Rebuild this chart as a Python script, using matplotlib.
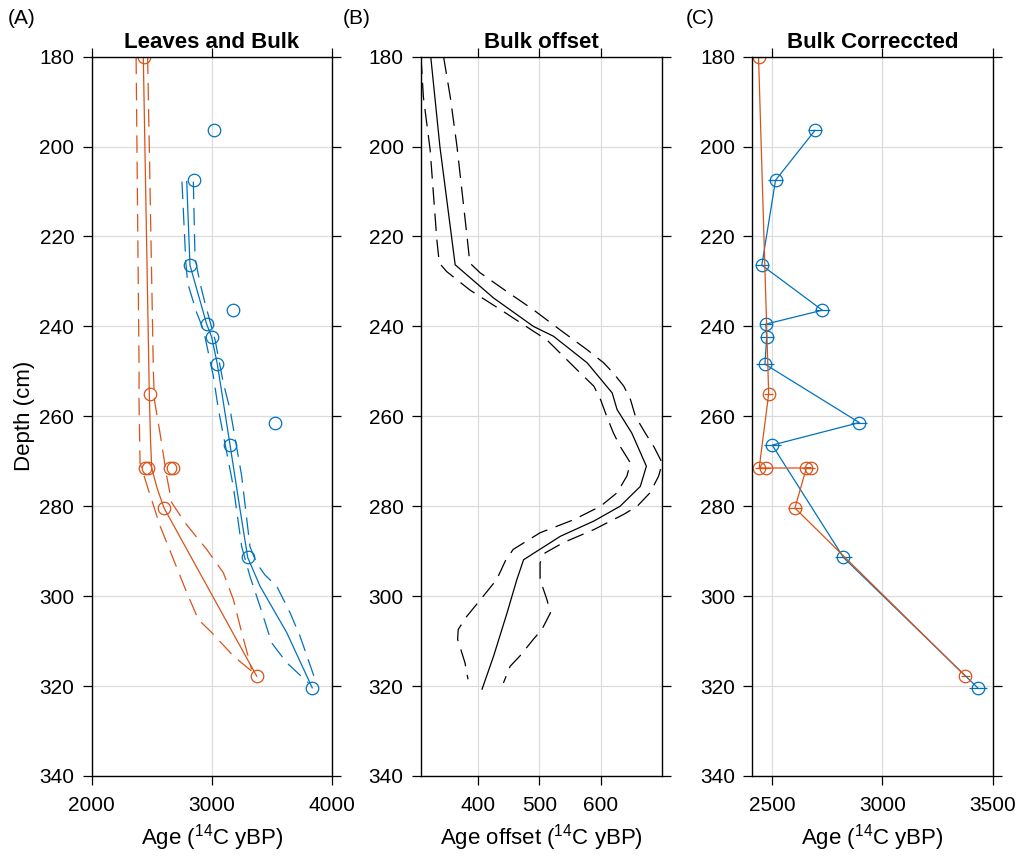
import matplotlib
matplotlib.use("Agg")
import matplotlib.pyplot as plt

plt.rcParams['font.family'] = ['Liberation Sans', 'DejaVu Sans']
plt.rcParams['mathtext.fontset'] = 'custom'
plt.rcParams['mathtext.rm'] = 'Liberation Sans'
plt.rcParams['mathtext.it'] = 'Liberation Sans'

BLUE = '#0072BD'
ORANGE = '#D95319'

# --- measured ages (14C yBP) ---
leaf_depth = [180, 255, 271.5, 271.5, 271.5, 271.5, 280.4, 317.8]
leaf_age = [2438, 2484, 2441, 2471, 2676, 2655, 2603, 3376]
leaf_err = [20, 20, 20, 20, 20, 20, 30, 20]

bulk_depth = [196.4, 207.5, 226.4, 236.4, 239.5, 242.4, 248.4, 261.4, 266.4, 291.4, 320.4]
bulk_age = [3022, 2850, 2819, 3178, 2958, 3000, 3047, 3528, 3153, 3300, 3838]
bulk_corr = [2694, 2515, 2453, 2727, 2471, 2475, 2467, 2895, 2500, 2823, 3432]
bulk_corr_err = [33, 36, 31, 34, 27, 32, 39, 36, 38, 38, 40]

# --- age-depth models, panel A ---
leaf_mod_depth = [180, 255, 265, 271.5, 276, 280.4, 317.8]
leaf_mod_age = [2430, 2480, 2490, 2500, 2545, 2603, 3375]
leaf_lo_depth = [180, 250, 256, 270.4, 276.3, 284.4, 291.8, 299.2, 305.2, 308.1, 313.3, 317]
leaf_lo_age = [2370, 2395, 2394, 2403, 2472, 2570, 2681, 2792, 2889, 3000, 3180, 3347]
leaf_hi_depth = [180, 250, 256.3, 263.7, 273.3, 279.2, 283.7, 289.6, 294.8, 300.7, 308.1, 316.3]
leaf_hi_age = [2466, 2514, 2522, 2569, 2625, 2667, 2778, 2958, 3097, 3180, 3250, 3333]

bulk_mod_depth = [207.8, 226.4, 239.5, 242.4, 248.4, 266.4, 280.7, 291.4, 297.8, 308.1, 320.4]
bulk_mod_age = [2792, 2819, 2958, 3000, 3047, 3153, 3236, 3300, 3403, 3625, 3838]
bulk_lo_depth = [207.8, 226, 230.4, 237, 240.7, 251.1, 258.5, 275.6, 289, 295.6, 302.3, 310.4, 314.8, 319.3]
bulk_lo_age = [2752, 2785, 2800, 2875, 2931, 3014, 3056, 3180, 3250, 3319, 3403, 3500, 3625, 3806]
bulk_hi_depth = [207.8, 224.8, 230.4, 234.8, 243, 252.6, 258.5, 273.3, 289, 292.7, 295.3, 297.8, 303.7, 308.9, 318.5]
bulk_hi_age = [2847, 2861, 2903, 2944, 3028, 3097, 3153, 3250, 3319, 3375, 3444, 3542, 3653, 3736, 3861]

# --- bulk offset, panel B ---
off_depth = [180, 200, 226.3, 233.7, 240, 242.2, 248.1, 254.8, 258.5, 263.7, 271.1, 275.6,
             280, 283.3, 286.7, 291.9, 296.3, 303.7, 313.3, 320.7]
off_val = [322, 337, 362, 425, 490, 523, 578, 619, 627, 651, 675, 665,
           632, 589, 534, 474, 463, 447, 425, 406]
off_lo_depth = [180, 189, 200.7, 220.7, 225.9, 227.8, 231.9, 236.7, 240.8, 243, 249.6, 253.3,
                256.3, 260, 263.7, 266.7, 270.4, 273.3, 277, 280, 283, 285.9, 289.6, 292.2,
                296.3, 300, 304.5, 307.4, 309.6, 314.8, 318.5]
off_lo = [306, 310, 321, 332, 336, 348, 386, 441, 487, 512, 561, 589,
          600, 610, 621, 632, 649, 643, 627, 600, 556, 501, 457, 444,
          430, 408, 381, 367, 366, 378, 383]
off_hi_depth = [180, 189, 200, 220.7, 225.9, 228.1, 232.2, 236.3, 240.8, 245.2, 248.1, 250.4,
                253.3, 256.3, 260, 263.7, 266.7, 270.4, 273.3, 277, 280, 281.8, 285.2, 288.1,
                290.4, 292.6, 296.3, 300.7, 303.7, 307.4, 309.6, 313.3, 315.6, 319.3]
off_hi = [343, 354, 365, 382, 386, 403, 446, 490, 534, 578, 605, 621,
          638, 649, 657, 673, 687, 701, 695, 681, 660, 638, 589, 539,
          509, 501, 501, 512, 518, 504, 490, 468, 452, 441]

DASH = (14, 7)
LW = 0.9
MS = 9


def style_axis(ax, xlim, xticks):
    ax.set_xlim(*xlim)
    ax.set_xticks(xticks)
    ax.set_ylim(340, 180)
    ax.set_yticks(range(180, 341, 20))
    ax.grid(True, color='#dcdcdc', lw=0.9)
    ax.set_axisbelow(True)
    ax.tick_params(direction='out', length=6.5, width=0.9, top=True, right=True,
                   labelsize=15, color='black')
    ax.tick_params(axis='y', pad=6)
    ax.tick_params(axis='x', pad=8)
    for s in ax.spines.values():
        s.set_linewidth(1.0)
    ax.set_xlabel(r'Age ($^{14}$C yBP)', fontsize=16, labelpad=5)


fig = plt.figure(figsize=(10.2, 8.58), dpi=100)
axA = fig.add_axes([0.0899, 0.0956, 0.2353, 0.8384])
axB = fig.add_axes([0.4127, 0.0956, 0.2360, 0.8384])
axC = fig.add_axes([0.7376, 0.0956, 0.2357, 0.8384])

# (A) leaves and bulk
for d, a, ls in [(leaf_mod_depth, leaf_mod_age, '-'),
                 (leaf_lo_depth, leaf_lo_age, '--'),
                 (leaf_hi_depth, leaf_hi_age, '--')]:
    ln, = axA.plot(a, d, ls, color=ORANGE, lw=LW)
    if ls == '--':
        ln.set_dashes(DASH)
for d, a, ls in [(bulk_mod_depth, bulk_mod_age, '-'),
                 (bulk_lo_depth, bulk_lo_age, '--'),
                 (bulk_hi_depth, bulk_hi_age, '--')]:
    ln, = axA.plot(a, d, ls, color=BLUE, lw=LW)
    if ls == '--':
        ln.set_dashes(DASH)
axA.plot(leaf_age, leaf_depth, 'o', mfc='none', mec=ORANGE, ms=MS, mew=0.9)
axA.plot(bulk_age, bulk_depth, 'o', mfc='none', mec=BLUE, ms=MS, mew=0.9)
style_axis(axA, (2000, 4000), [2000, 3000, 4000])
axA.set_ylabel('Depth (cm)', fontsize=16, labelpad=3)
axA.set_title('Leaves and Bulk', fontsize=16, fontweight='bold', pad=6)

# (B) bulk offset
axB.plot(off_val, off_depth, '-', color='black', lw=LW)
for d, v in [(off_lo_depth, off_lo), (off_hi_depth, off_hi)]:
    ln, = axB.plot(v, d, '--', color='black', lw=LW)
    ln.set_dashes(DASH)
style_axis(axB, (306, 700), [400, 500, 600])
axB.set_xlabel(r'Age offset ($^{14}$C yBP)', fontsize=16, labelpad=5)
axB.set_title('Bulk offset', fontsize=16, fontweight='bold', pad=6)

# (C) bulk corrected
axC.errorbar(bulk_corr, bulk_depth, xerr=bulk_corr_err, fmt='-o', color=BLUE,
             mfc='none', ms=MS, mew=0.9, lw=LW, elinewidth=LW, capsize=0)
axC.errorbar(leaf_age, leaf_depth, xerr=leaf_err, fmt='-o', color=ORANGE,
             mfc='none', ms=MS, mew=0.9, lw=LW, elinewidth=LW, capsize=0)
style_axis(axC, (2410, 3500), [2500, 3000, 3500])
axC.set_title('Bulk Correccted', fontsize=16, fontweight='bold', pad=6)

fig.text(0.008, 0.979, '(A)', fontsize=15, va='center')
fig.text(0.336, 0.979, '(B)', fontsize=15, va='center')
fig.text(0.672, 0.979, '(C)', fontsize=15, va='center')

fig.savefig('out.png', dpi=100)
